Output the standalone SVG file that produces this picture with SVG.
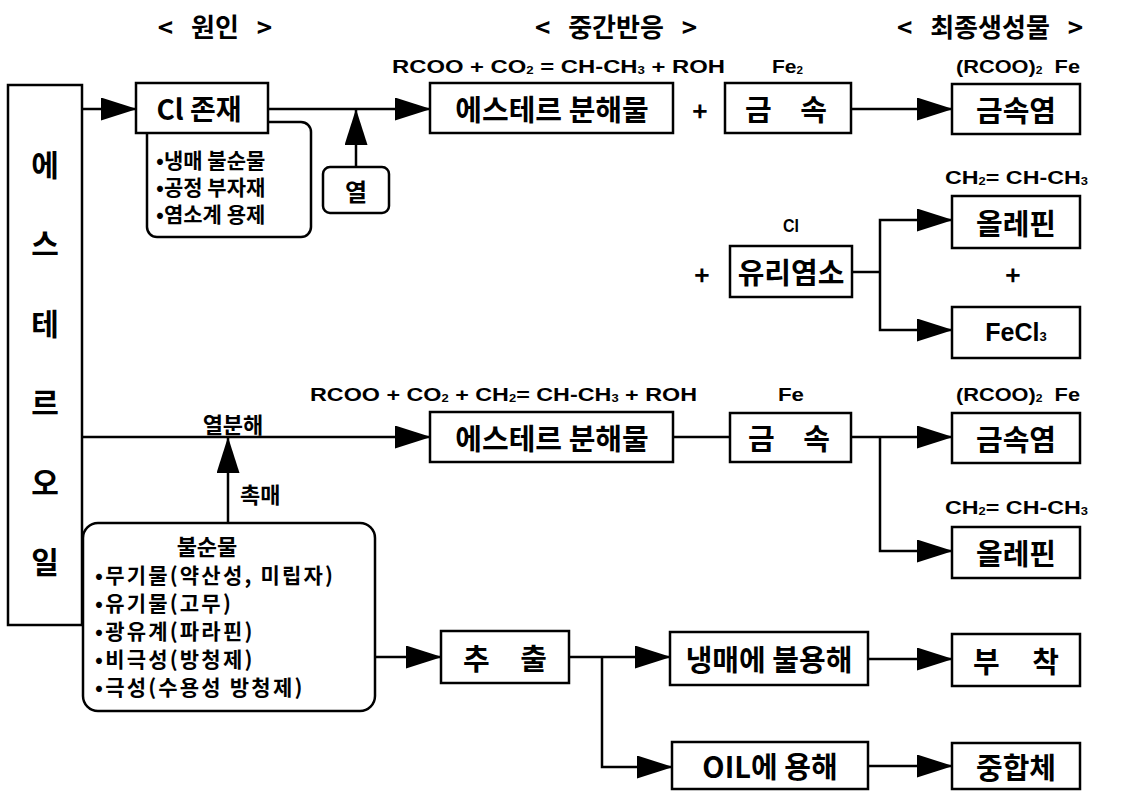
<svg xmlns="http://www.w3.org/2000/svg" width="1124" height="791" viewBox="0 0 1124 791">
<style>
.box{fill:#fff;stroke:#000;stroke-width:2.5}
.ln{fill:none;stroke:#000;stroke-width:2.5}
.arr{fill:none;stroke:#000;stroke-width:2.5;marker-end:url(#ah)}
.k{font-family:"Noto Sans CJK KR","Liberation Sans",sans-serif;font-weight:bold;fill:#000;text-anchor:middle;dominant-baseline:central}
.kl{font-family:"Noto Sans CJK KR","Liberation Sans",sans-serif;font-weight:bold;fill:#000;dominant-baseline:central}
.b{font-size:29px}
.f{font-family:"Liberation Sans","Noto Sans CJK KR",sans-serif;font-weight:bold;fill:#000;font-size:18px;dominant-baseline:central}
.s{font-size:10px}
.h{font-size:26px;word-spacing:12px}
.li{font-size:21px;letter-spacing:2.2px}
</style>
<defs>
<marker id="ah" markerUnits="userSpaceOnUse" markerWidth="36" markerHeight="23" refX="35" refY="11.5" orient="auto">
<path d="M0,0 L36,11.5 L0,23 z" fill="#000"/>
</marker>
</defs>
<rect width="1124" height="791" fill="#fff"/>

<g id="headers">
<text class="k h" x="215" y="25">&lt; 원인 &gt;</text>
<text class="k h" x="616" y="25">&lt; 중간반응 &gt;</text>
<text class="k h" x="990" y="25">&lt; 최종생성물 &gt;</text>
</g>

<g id="labels">
<text class="f" x="392" y="67" textLength="333" lengthAdjust="spacingAndGlyphs">RCOO + CO<tspan class="s" dy="3">2</tspan><tspan dy="-3"> = CH-CH</tspan><tspan class="s" dy="3">3</tspan><tspan dy="-3"> + ROH</tspan></text>
<text class="f" x="772" y="67" textLength="31" lengthAdjust="spacingAndGlyphs">Fe<tspan class="s" dy="3">2</tspan></text>
<text class="f" x="956" y="67" textLength="124" lengthAdjust="spacingAndGlyphs">(RCOO)<tspan class="s" dy="3">2</tspan><tspan dy="-3" xml:space="preserve">  Fe</tspan></text>
<text class="f" x="945" y="178" textLength="143" lengthAdjust="spacingAndGlyphs">CH<tspan class="s" dy="3">2</tspan><tspan dy="-3">= CH-CH</tspan><tspan class="s" dy="3">3</tspan></text>
<text class="f" x="783" y="226" textLength="16" lengthAdjust="spacingAndGlyphs">Cl</text>
<text class="f" x="310" y="395" textLength="387" lengthAdjust="spacingAndGlyphs">RCOO + CO<tspan class="s" dy="3">2</tspan><tspan dy="-3"> + CH</tspan><tspan class="s" dy="3">2</tspan><tspan dy="-3">= CH-CH</tspan><tspan class="s" dy="3">3</tspan><tspan dy="-3"> + ROH</tspan></text>
<text class="f" x="778" y="395" textLength="26" lengthAdjust="spacingAndGlyphs">Fe</text>
<text class="f" x="956" y="395" textLength="124" lengthAdjust="spacingAndGlyphs">(RCOO)<tspan class="s" dy="3">2</tspan><tspan dy="-3" xml:space="preserve">  Fe</tspan></text>
<text class="f" x="945" y="508" textLength="143" lengthAdjust="spacingAndGlyphs">CH<tspan class="s" dy="3">2</tspan><tspan dy="-3">= CH-CH</tspan><tspan class="s" dy="3">3</tspan></text>
<text class="k" x="700" y="109" font-size="26">+</text>
<text class="k" x="702" y="273" font-size="26">+</text>
<text class="k" x="1013" y="273" font-size="26">+</text>
<text class="k" x="233" y="423" font-size="22">열분해</text>
<text class="kl" x="240" y="493" font-size="22">촉매</text>
</g>

<g id="connectors">
<path class="arr" d="M82,109 H136"/>
<path class="arr" d="M268,109 H430"/>
<path class="arr" d="M356,167 V110"/>
<path class="arr" d="M851,109 H952"/>
<path class="ln" d="M852,272 H880"/>
<path class="arr" d="M880,272 V220 H952"/>
<path class="arr" d="M880,272 V330 H952"/>
<path class="arr" d="M82,437 H430"/>
<path class="arr" d="M228,523 V438"/>
<path class="ln" d="M673,437 H730"/>
<path class="arr" d="M851,437 H952"/>
<path class="arr" d="M880,437 V551 H952"/>
<path class="arr" d="M375,657 H441"/>
<path class="arr" d="M569,657 H670"/>
<path class="arr" d="M602,657 V767 H672"/>
<path class="arr" d="M868,659 H952"/>
<path class="arr" d="M868,766 H952"/>
</g>

<g id="ester-oil">
<rect class="box" x="8" y="85" width="74" height="540"/>
<text class="k" x="45" y="163" font-size="30">에</text>
<text class="k" x="45" y="242" font-size="30">스</text>
<text class="k" x="45" y="322" font-size="30">테</text>
<text class="k" x="45" y="401" font-size="30">르</text>
<text class="k" x="45" y="481" font-size="30">오</text>
<text class="k" x="45" y="560" font-size="30">일</text>
</g>

<g id="cl-sources">
<rect class="box" x="147" y="122" width="164" height="115" rx="10"/>
<text class="kl" x="156" y="159" font-size="21">•냉매 불순물</text>
<text class="kl" x="156" y="186" font-size="21">•공정 부자재</text>
<text class="kl" x="156" y="213" font-size="21">•염소계 용제</text>
</g>

<g id="cl-exist">
<rect class="box" x="136" y="83" width="132" height="50"/>
<text class="k" x="199" y="108" font-size="28">Cl 존재</text>
</g>

<g id="heat">
<rect class="box" x="323" y="167" width="66" height="46" rx="7"/>
<text class="k" x="356" y="190" font-size="24">열</text>
</g>

<g id="ester-decomp-1">
<rect class="box" x="430" y="83" width="243" height="50"/>
<text class="k b" x="552" y="108">에스테르 분해물</text>
</g>

<g id="metal-1">
<rect class="box" x="725" y="83" width="126" height="50"/>
<text class="k b" x="786" y="108" word-spacing="22">금 속</text>
</g>

<g id="metal-salt-1">
<rect class="box" x="952" y="84" width="128" height="50"/>
<text class="k b" x="1016" y="109">금속염</text>
</g>

<g id="olefin-1">
<rect class="box" x="952" y="196" width="128" height="52"/>
<text class="k b" x="1016" y="222">올레핀</text>
</g>

<g id="free-chlorine">
<rect class="box" x="730" y="246" width="122" height="51"/>
<text class="k b" x="791" y="271">유리염소</text>
</g>

<g id="fecl3">
<rect class="box" x="952" y="307" width="128" height="51"/>
<text class="f" x="1016" y="332" text-anchor="middle" style="font-size:25px">FeCl<tspan style="font-size:13px" dy="4">3</tspan></text>
</g>

<g id="ester-decomp-2">
<rect class="box" x="430" y="412" width="243" height="50"/>
<text class="k b" x="552" y="437">에스테르 분해물</text>
</g>

<g id="metal-2">
<rect class="box" x="730" y="413" width="121" height="49"/>
<text class="k b" x="789" y="437" word-spacing="22">금 속</text>
</g>

<g id="metal-salt-2">
<rect class="box" x="952" y="413" width="128" height="50"/>
<text class="k b" x="1016" y="438">금속염</text>
</g>

<g id="olefin-2">
<rect class="box" x="952" y="527" width="128" height="51"/>
<text class="k b" x="1016" y="552">올레핀</text>
</g>

<g id="impurities">
<rect class="box" x="83" y="523" width="292" height="188" rx="15"/>
<text class="k" x="207" y="545" font-size="22">불순물</text>
<text class="kl li" x="95" y="574">•무기물(약산성, 미립자)</text>
<text class="kl li" x="95" y="602">•유기물(고무)</text>
<text class="kl li" x="95" y="630">•광유계(파라핀)</text>
<text class="kl li" x="95" y="658">•비극성(방청제)</text>
<text class="kl li" x="95" y="686">•극성(수용성 방청제)</text>
</g>

<g id="extraction">
<rect class="box" x="441" y="631" width="128" height="52"/>
<text class="k b" x="505" y="657" word-spacing="24">추 출</text>
</g>

<g id="insoluble">
<rect class="box" x="670" y="632" width="198" height="53"/>
<text class="k b" x="769" y="658">냉매에 불용해</text>
</g>

<g id="deposit">
<rect class="box" x="952" y="634" width="128" height="52"/>
<text class="k b" x="1016" y="660" word-spacing="26">부 착</text>
</g>

<g id="oil-soluble">
<rect class="box" x="672" y="742" width="196" height="47"/>
<text class="k b" x="770" y="765">OIL에 용해</text>
</g>

<g id="polymer">
<rect class="box" x="952" y="743" width="128" height="46"/>
<text class="k b" x="1016" y="766">중합체</text>
</g>
</svg>
